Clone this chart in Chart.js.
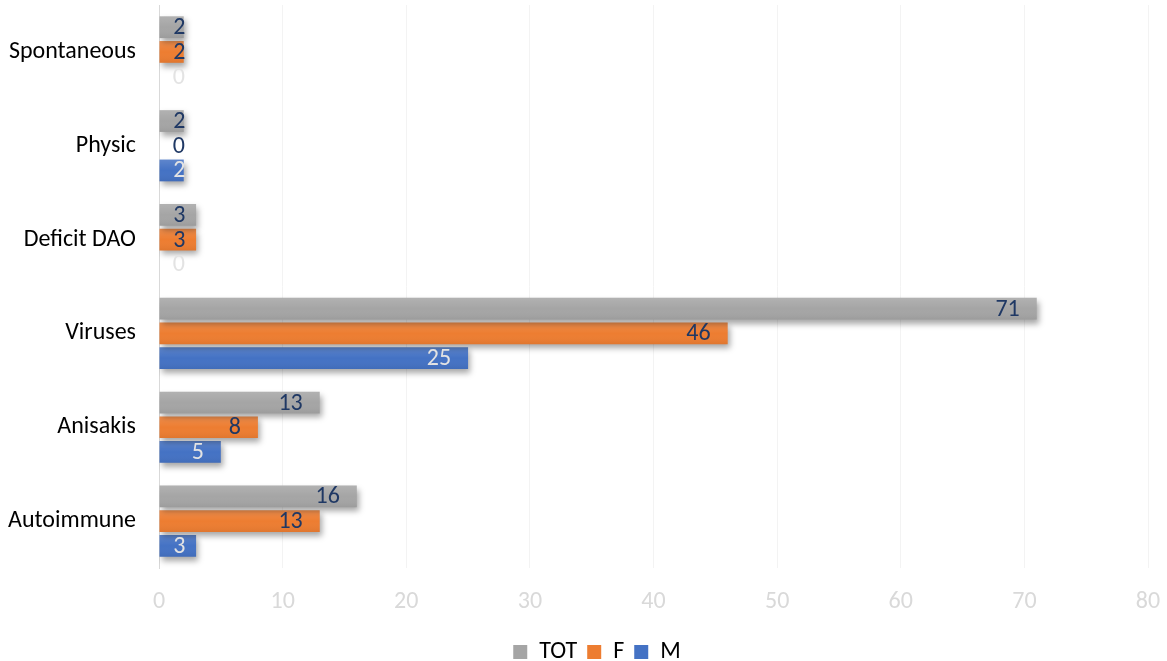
<!DOCTYPE html>
<html>
<head>
<meta charset="utf-8">
<script src="https://cdn.jsdelivr.net/npm/chart.js@4"></script>
<style>
html,body{margin:0;padding:0;background:#fff;}
#wrap{width:1167px;height:661px;position:relative;}
</style>
</head>
<body>
<div id="wrap"><canvas id="c" width="1167" height="661"></canvas></div>
<script>
const categories = ["Spontaneous", "Physic", "Deficit DAO", "Viruses", "Anisakis", "Autoimmune"];
const totValues = [2, 2, 3, 71, 13, 16];
const fValues = [2, 0, 3, 46, 8, 13];
const mValues = [0, 2, 0, 25, 5, 3];
const xTicks = [0, 10, 20, 30, 40, 50, 60, 70, 80];

const FONT = "Carlito, 'Open Sans', sans-serif";

const shadowPlugin = {
  id: 'shadow',
  beforeDatasetDraw(chart) {
    const c = chart.ctx;
    c.save();
    c.shadowColor = 'rgba(0,0,0,0.35)';
    c.shadowBlur = 6;
    c.shadowOffsetX = 2;
    c.shadowOffsetY = 4;
  },
  afterDatasetDraw(chart, args) {
    const c = chart.ctx;
    c.restore();
    const meta = args.meta;
    c.save();
    meta.data.forEach(el => {
      const props = el.getProps(['x', 'y', 'base', 'height'], true);
      const left = Math.min(props.base, props.x);
      const w = Math.abs(props.x - props.base);
      if (w <= 0) return;
      const top = props.y - props.height / 2;
      const g = c.createLinearGradient(0, top, 0, top + props.height);
      g.addColorStop(0, 'rgba(255,255,255,0.14)');
      g.addColorStop(0.5, 'rgba(255,255,255,0.0)');
      g.addColorStop(1, 'rgba(0,0,0,0.06)');
      c.fillStyle = g;
      c.fillRect(left, top, w, props.height);
    });
    c.restore();
  }
};

const labelPlugin = {
  id: 'barLabels',
  afterDatasetsDraw(chart) {
    const c = chart.ctx;
    c.save();
    c.font = "24px " + FONT;
    c.textAlign = 'right';
    c.textBaseline = 'middle';
    chart.data.datasets.forEach((ds, di) => {
      const meta = chart.getDatasetMeta(di);
      meta.data.forEach((el, i) => {
        const v = ds.data[i];
        const props = el.getProps(['x', 'y', 'base'], true);
        const right = Math.max(props.x - 17, props.base + 26);
        c.fillStyle = ds.labelColor;
        c.fillText(String(v), right, props.y + 1);
      });
    });
    c.restore();
  }
};

const legendShift = {
  id: 'legendShift',
  afterLayout(chart) {
    const lg = chart.legend;
    if (lg) { lg.left += 23; lg.right += 23; }
  }
};

new Chart(document.getElementById('c'), {
  type: 'bar',
  data: {
    labels: categories,
    datasets: [
      { label: 'TOT', data: totValues, backgroundColor: '#a5a5a5', labelColor: '#1f3864' },
      { label: 'F', data: fValues, backgroundColor: '#ed7d31', labelColor: '#1f3864' },
      { label: 'M', data: mValues, backgroundColor: '#4472c4', labelColor: '#e3e3e3' }
    ]
  },
  options: {
    indexAxis: 'y',
    responsive: false,
    animation: false,
    devicePixelRatio: 1,
    layout: { padding: { top: 5, right: 19, bottom: -13, left: 0 } },
    datasets: { bar: { categoryPercentage: 0.79, barPercentage: 0.88, borderWidth: 0 } },
    scales: {
      x: {
        min: 0, max: 80,
        afterBuildTicks: s => { s.ticks = xTicks.map(v => ({ value: v })); },
        afterFit: s => { s.height = 62; s.paddingLeft = 0; s.paddingRight = 0; },
        grid: { color: '#f3f3f3', drawTicks: false, lineWidth: 1 },
        border: { display: false },
        ticks: { color: '#d9d9d9', font: { family: FONT, size: 24 }, padding: 20 }
      },
      y: {
        afterFit: s => { s.width = 159; s.paddingTop = 0; s.paddingBottom = 0; },
        grid: { display: false, drawTicks: false },
        border: { display: true, color: '#d9d9d9' },
        ticks: { color: '#000000', font: { family: FONT, size: 24 }, padding: 23 }
      }
    },
    plugins: {
      legend: {
        position: 'bottom',
        labels: {
          color: '#000000',
          font: { family: FONT, size: 24 },
          boxWidth: 14, boxHeight: 14,
          padding: 10
        }
      },
      tooltip: { enabled: false }
    }
  },
  plugins: [shadowPlugin, labelPlugin, legendShift]
});
</script>
</body>
</html>
